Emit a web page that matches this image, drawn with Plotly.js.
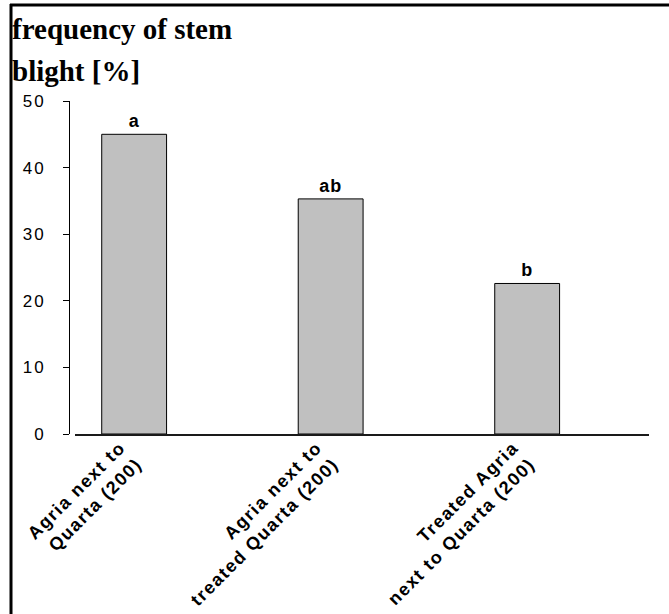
<!DOCTYPE html>
<html>
<head>
<meta charset="utf-8">
<script src="https://cdn.plot.ly/plotly-3.0.1.min.js"></script>
<style>
  html, body { margin: 0; padding: 0; background: #fff; }
  #chart { width: 669px; height: 614px; }
  .xtick text { letter-spacing: 1.5px; }
  .ytick text { letter-spacing: 2px; }
  .bartext text, text.bartext { letter-spacing: 1px; }
</style>
</head>
<body>
<div id="chart"></div>
<script>
// ---- data ----
const categories = [
  "Agria next to<br>Quarta (200)",
  "Agria next to<br>treated Quarta (200)",
  "Treated Agria<br>next to Quarta (200)"
];
const values = [45, 35.3, 22.6];
const letters = ["a", "ab", "b"];
const yTicks = [0, 10, 20, 30, 40, 50];
const titleLines = ["frequency of stem", "blight [%]"];

// ---- layout helpers (pixel -> paper) ----
const W = 669, H = 614;
const L = 69, R = 20, T = 101, B = 180;
const pw = W - L - R, ph = H - T - B;
const px = v => (v - L) / pw;
const py = v => (H - B - v) / ph;

const trace = {
  type: "bar",
  x: [0, 1, 2],
  y: values,
  width: 0.33,
  marker: { color: "#c0c0c0", line: { color: "#000", width: 1 } },
  text: letters,
  textposition: "outside",
  textfont: { family: "Liberation Sans, Arial, sans-serif", size: 18, color: "#000", weight: 700 },
  cliponaxis: false,
  hoverinfo: "skip"
};

const titleFont = { family: "Liberation Serif, Times New Roman, serif", size: 29, color: "#000", weight: 700 };

const layout = {
  width: W, height: H,
  margin: { l: L, r: R, t: T, b: B, pad: 0 },
  paper_bgcolor: "#fff", plot_bgcolor: "#fff",
  showlegend: false,
  font: { family: "Liberation Sans, Arial, sans-serif", color: "#000" },
  annotations: [
    { text: titleLines[0], xref: "paper", yref: "paper", x: px(10), xanchor: "left",
      y: py(11), yanchor: "top", showarrow: false, font: titleFont },
    { text: titleLines[1], xref: "paper", yref: "paper", x: px(10), xanchor: "left",
      y: py(53), yanchor: "top", showarrow: false, font: titleFont }
  ],
  xaxis: {
    domain: [6 / pw, 1],
    range: [-0.301, 2.62],
    tickmode: "array",
    tickvals: [0, 1, 2],
    ticktext: categories,
    tickangle: -45,
    ticks: "",
    ticklabelshift: -14,
    ticklabelstandoff: -6,
    showgrid: false,
    zeroline: false,
    showline: true, linecolor: "#1a1a1a", linewidth: 2,
    tickfont: { family: "Liberation Sans, Arial, sans-serif", size: 18, color: "#000", weight: 700 },
    fixedrange: true
  },
  yaxis: {
    anchor: "free", position: 0,
    range: [0, 50],
    tickmode: "array",
    tickvals: yTicks,
    ticktext: yTicks.map(String),
    ticks: "outside", ticklen: 6, tickwidth: 1, tickcolor: "#000",
    ticklabelstandoff: 14,
    showgrid: false, zeroline: false,
    showline: true, linecolor: "#000", linewidth: 1,
    tickfont: { family: "Liberation Sans, Arial, sans-serif", size: 17, color: "#000" },
    fixedrange: true
  },
  shapes: [
    { type: "line", xref: "paper", yref: "paper", x0: px(11), x1: px(11), y0: py(614), y1: py(4), line: { color: "#000", width: 3 } },
    { type: "line", xref: "paper", yref: "paper", x0: px(10), x1: px(669), y0: py(5), y1: py(5), line: { color: "#000", width: 3 } }
  ]
};

Plotly.newPlot("chart", [trace], layout, { displayModeBar: false, staticPlot: true });
</script>
</body>
</html>
